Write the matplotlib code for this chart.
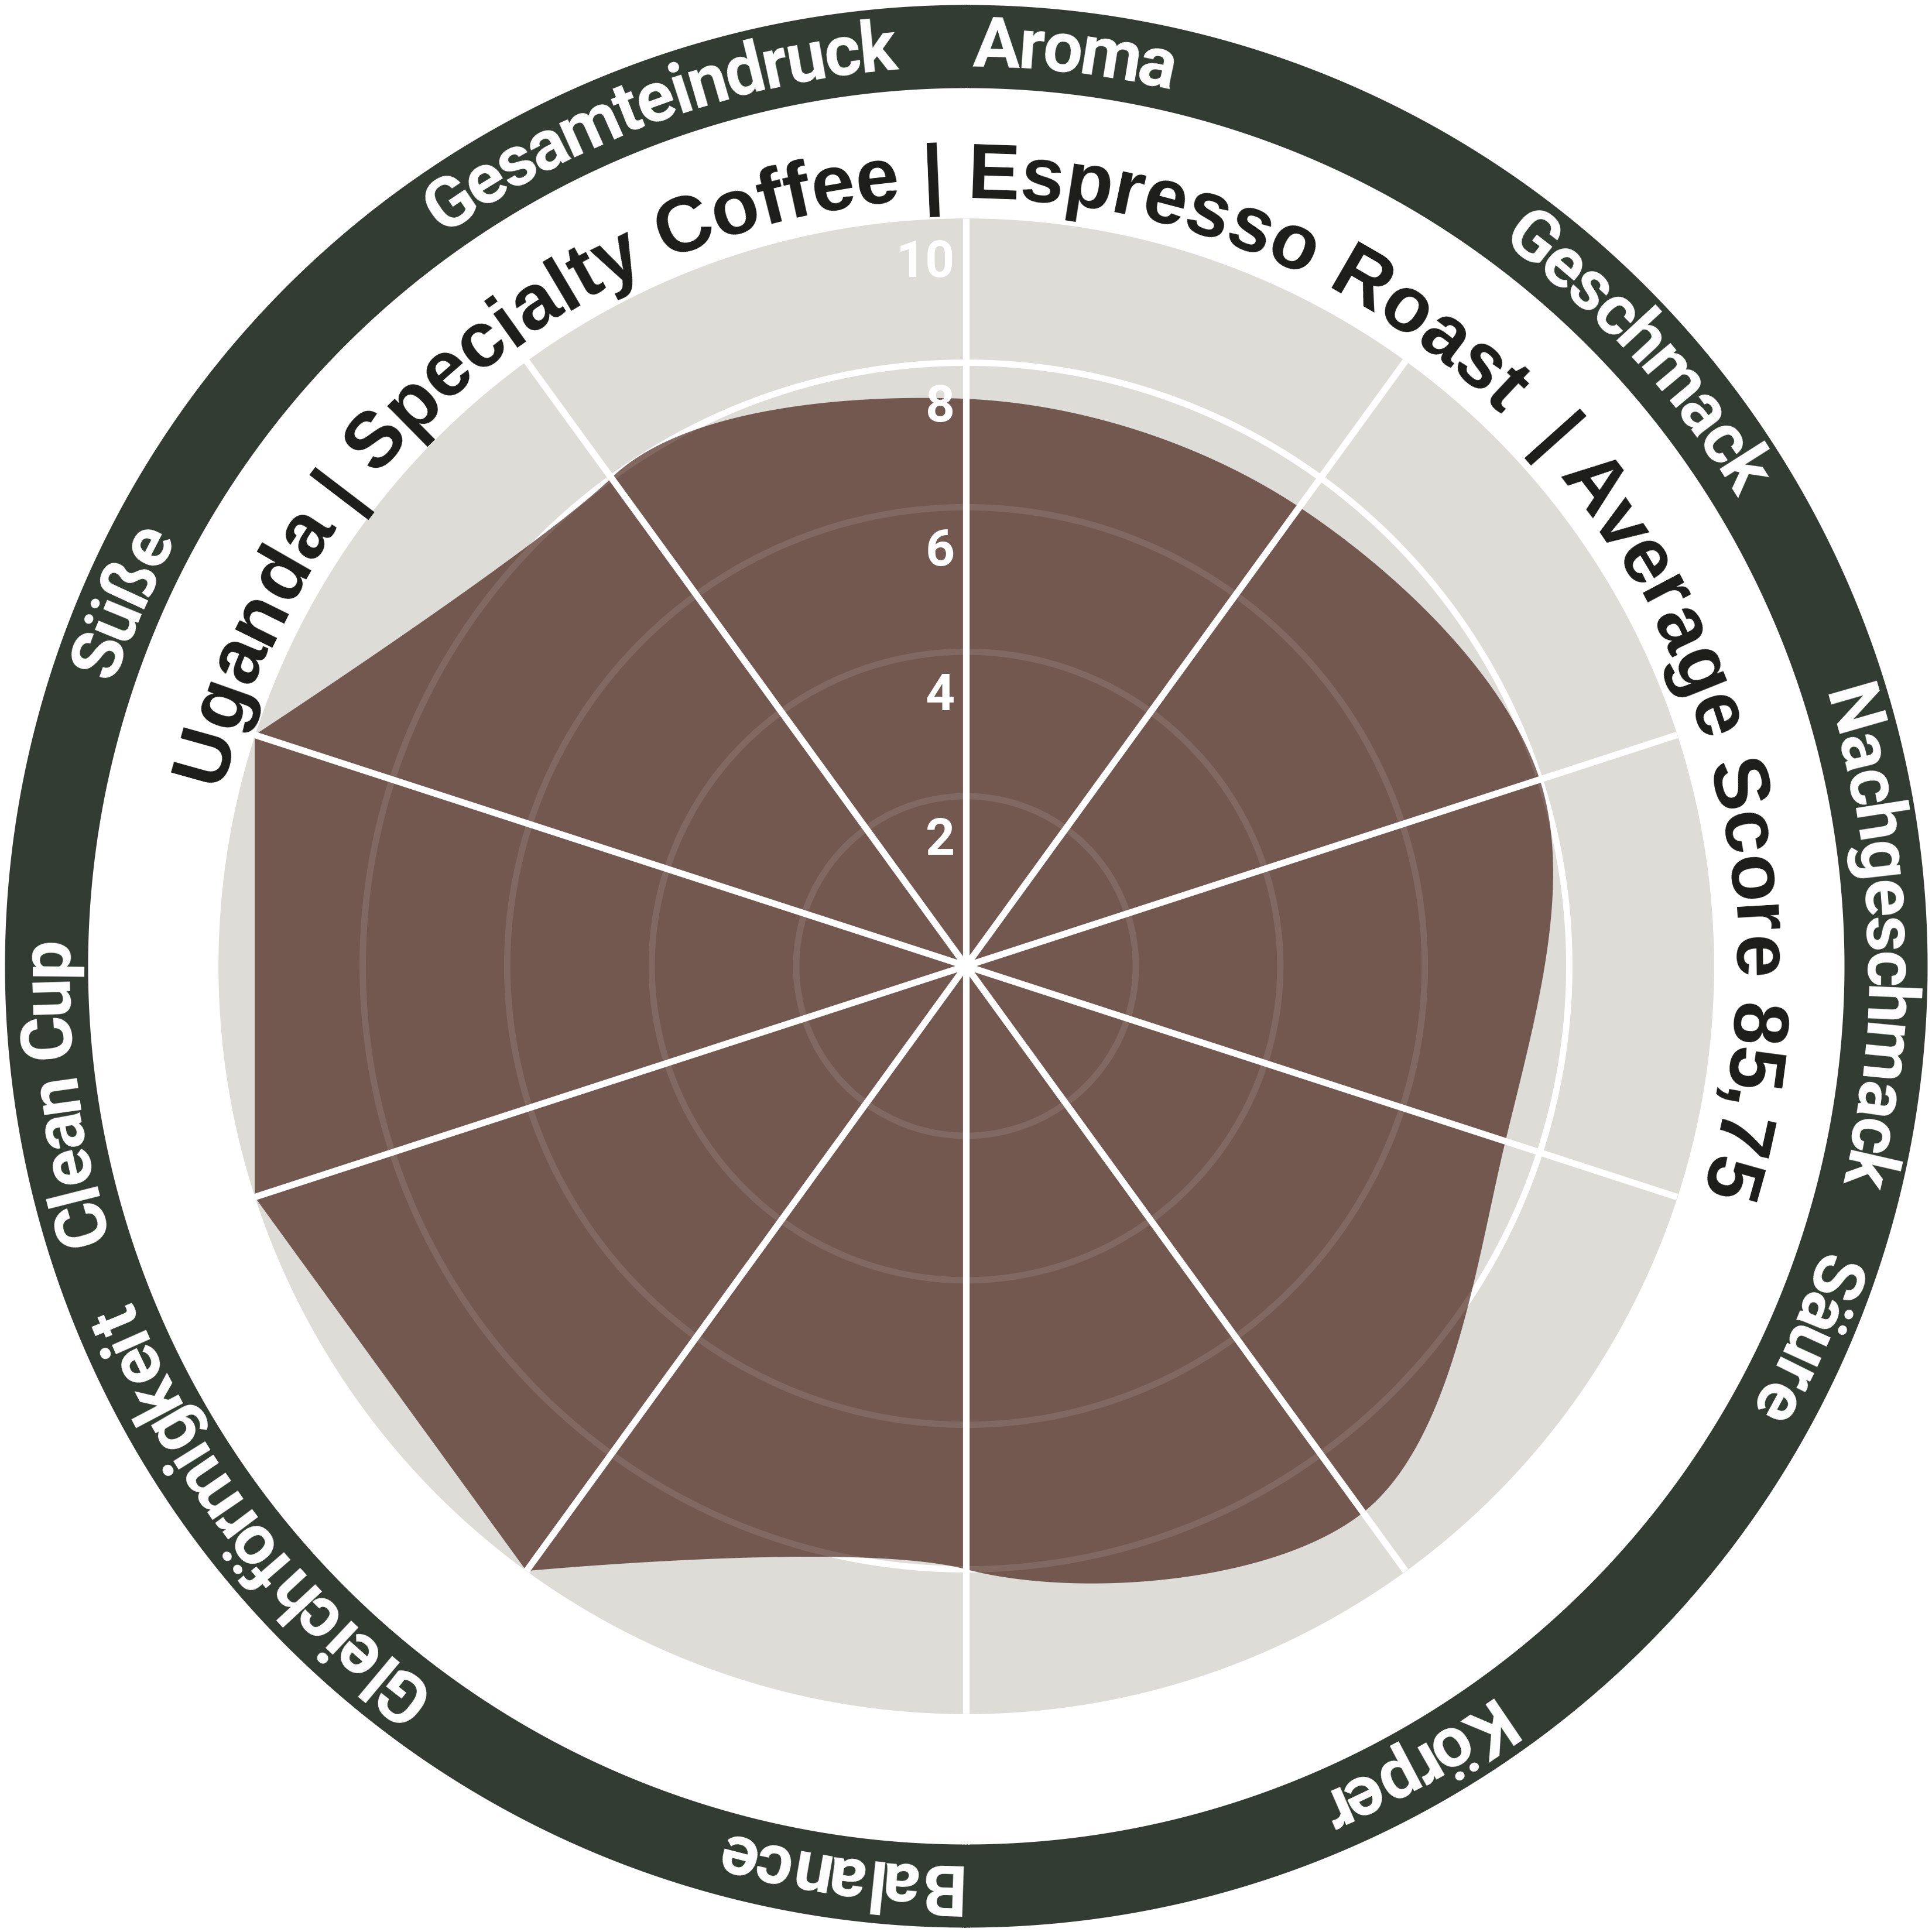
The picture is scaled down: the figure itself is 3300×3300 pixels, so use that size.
import numpy as np
import matplotlib
matplotlib.use("Agg")
import matplotlib.pyplot as plt
from matplotlib.font_manager import FontProperties, findfont
from matplotlib import ft2font
import matplotlib.transforms as mtransforms

# ---------------- data ----------------
categories = ["Aroma", "Geschmack", "Nachgeschmack", "Säure", "Körper",
              "Balance", "Gleichförmigkeit", "Clean Cup", "Süße", "Gesamteindruck"]
scores = [7.5, 7.5, 8.0, 7.5, 9.0, 8.0, 10.0, 10.0, 10.0, 8.0]
grid_levels = [2, 4, 6, 8]
tick_values = [2, 4, 6, 8, 10]
tick_labels = ["2", "4", "6", "8", "10"]
title_text = "Uganda | Specialty Coffee | Espresso Roast  | Average Score 85,75"
score_max = 10

# ---------------- style ----------------
DPI = 300
FIG_IN = 11
R_MIN = -0.35          # radial axis starts slightly below zero
R_TOP = 13.02          # outer limit of the polar axes
HALF_PX = FIG_IN * DPI / 2
PPU = HALF_PX / (R_TOP - R_MIN)   # pixels per radial unit


def px2r(px):
    return px / PPU + R_MIN


GREY = "#dddcd7"
FILL = "#735850"
RING = "#323c33"
TITLE_COL = "#1c1c1a"
GRID_LW = 2.6
SPOKE_LW = 2.7

RING_IN = px2r(1500)
RING_OUT = px2r(1642)
TITLE_BASE_PX = 1311
LABEL_BASE_PX = 1536
LABEL_PATH_PX = 1645
LABEL_SIZE = 29
LABEL_START_OFF = 0.5
TICK_SIZE = 21
TITLE_START = 283.5
TITLE_END = 467.3

title_font = FontProperties(family=["Liberation Sans", "Arial", "Roboto"], weight="bold")

try:
    NOH = ft2font.LoadFlags.NO_HINTING
    KD = ft2font.Kerning.DEFAULT
except AttributeError:
    NOH = ft2font.LOAD_NO_HINTING
    KD = ft2font.KERNING_DEFAULT


def char_centers(text, prop, size_pt):
    font = ft2font.FT2Font(findfont(prop))
    font.set_size(size_pt, DPI)
    centers, pen, prev = [], 0.0, None
    for ch in text:
        gi = font.get_char_index(ord(ch))
        if prev is not None:
            try:
                pen += font.get_kerning(prev, gi, KD) / 64.0
            except Exception:
                pass
        g = font.load_char(ord(ch), flags=NOH)
        adv = g.linearHoriAdvance / 65536.0
        centers.append(pen + adv / 2.0)
        pen += adv
        prev = gi
    return np.array(centers), pen


def smooth_closed(thetas, vals, vmax, nseg=80):
    """Closed Catmull-Rom curve; full-score vertices are sharp spikes and their
    neighbours take tangents from the spike mirrored about their own value."""
    vals = np.asarray(vals, float)
    n = len(vals)
    sharp = np.isclose(vals, vmax)

    def xy(th, v):
        rho = v - R_MIN
        return np.array([rho * np.sin(th), rho * np.cos(th)])

    P = np.array([xy(thetas[i], vals[i]) for i in range(n)])
    tang = np.zeros_like(P)
    for i in range(n):
        if sharp[i]:
            continue
        nb = []
        for j in ((i - 1) % n, (i + 1) % n):
            vj = vals[j]
            if sharp[j]:
                vj = max(2 * vals[i] - vals[j], R_MIN)
            nb.append(xy(thetas[j], vj))
        tang[i] = (nb[1] - nb[0]) / 6.0
    t = np.linspace(0, 1, nseg, endpoint=False)[:, None]
    segs = []
    for i in range(n):
        p0, p3 = P[i], P[(i + 1) % n]
        c1, c2 = p0 + tang[i], p3 - tang[(i + 1) % n]
        segs.append((1 - t) ** 3 * p0 + 3 * (1 - t) ** 2 * t * c1
                    + 3 * (1 - t) * t ** 2 * c2 + t ** 3 * p3)
    pts = np.vstack(segs + [P[:1]])
    th = np.unwrap(np.arctan2(pts[:, 0], pts[:, 1]))
    r = np.hypot(pts[:, 0], pts[:, 1]) + R_MIN
    return th, r


theta = np.arange(len(categories)) * 2 * np.pi / len(categories)
tt = np.linspace(0, 2 * np.pi, 1441)

fig = plt.figure(figsize=(FIG_IN, FIG_IN), dpi=DPI, facecolor="white")
ax = fig.add_axes([0, 0, 1, 1], projection="polar")
ax.set_theta_zero_location("N")
ax.set_theta_direction(-1)
ax.set_axis_off()

# outer ring, white band, grey disk
ax.fill_between(tt, R_MIN, RING_OUT, color=RING, lw=0, zorder=0.5)
ax.fill_between(tt, R_MIN, RING_IN, color="white", lw=0, zorder=0.6)
ax.fill_between(tt, R_MIN, score_max, color=GREY, lw=0, zorder=1)

# grid circles
for lv in grid_levels:
    ax.plot(tt, np.full_like(tt, lv), color="white", lw=GRID_LW, zorder=2)

# data area
th_c, r_c = smooth_closed(theta, scores, score_max)
ax.fill(th_c, r_c, color=FILL, lw=0, zorder=3)

# faint grid through the fill
for lv in grid_levels:
    ax.plot(tt, np.full_like(tt, lv), color="white", lw=GRID_LW, alpha=0.1, zorder=4)

# spokes
for th in theta:
    ax.plot([th, th], [R_MIN, score_max], color="white", lw=SPOKE_LW,
            solid_capstyle="butt", zorder=5)

# radial tick labels
off = mtransforms.offset_copy(ax.transData, fig=fig, x=-19 * 72 / DPI, y=0, units="points")
tick_prop = FontProperties(family="Roboto", weight="bold", size=TICK_SIZE)
for v, lab in zip(tick_values, tick_labels):
    ax.text(0, v - 100 / PPU, lab, transform=off, ha="right", va="baseline",
            color="white", fontproperties=tick_prop, zorder=6)

# curved category labels in the ring
lab_prop = FontProperties(family="Roboto", weight="bold", size=LABEL_SIZE)
r_lab = px2r(LABEL_BASE_PX)
for th, name in zip(theta, categories):
    centers, _ = char_centers(name, lab_prop, LABEL_SIZE)
    for ch, c in zip(name, centers):
        if ch == " ":
            continue
        ang = th + np.deg2rad(LABEL_START_OFF) + c / LABEL_PATH_PX
        ax.text(ang, r_lab, ch, rotation=-np.rad2deg(ang), rotation_mode="anchor",
                ha="center", va="baseline", color="white", fontproperties=lab_prop,
                zorder=7)

# curved title
arc_px = np.deg2rad(TITLE_END - TITLE_START) * TITLE_BASE_PX
_, tot = char_centers(title_text, title_font, 34)
title_size = 34 * arc_px / tot
title_prop = title_font.copy()
title_prop.set_size(title_size)
centers, _ = char_centers(title_text, title_prop, title_size)
r_title = px2r(TITLE_BASE_PX)
for ch, c in zip(title_text, centers):
    if ch == " ":
        continue
    ang = np.deg2rad(TITLE_START) + c / TITLE_BASE_PX
    ax.text(ang, r_title, ch, rotation=-np.rad2deg(ang), rotation_mode="anchor",
            ha="center", va="baseline", color=TITLE_COL, fontproperties=title_prop,
            zorder=7)

ax.set_ylim(R_MIN, R_TOP)
fig.savefig("out.png", dpi=DPI, facecolor="white")
